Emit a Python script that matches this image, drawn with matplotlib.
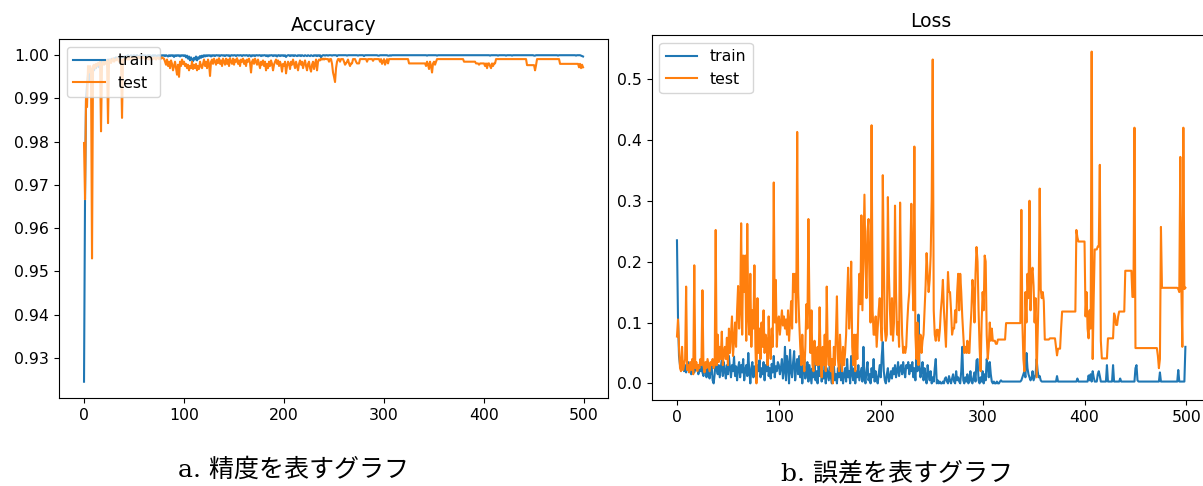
import numpy as np
import matplotlib
matplotlib.use("Agg")
import matplotlib.pyplot as plt

# per-epoch values (500 epochs)
train_acc = [
    0.9245, 0.9667, 0.9900, 0.9930, 0.9955, 0.9940, 0.9960, 0.9965, 0.9955, 0.9970, 0.9965, 0.9975, 0.9970, 0.9980, 0.9975, 0.9972, 0.9980, 0.9978, 0.9985, 0.9980,
    0.9985, 0.9982, 0.9988, 0.9985, 0.9990, 0.9986, 0.9990, 0.9988, 0.9992, 0.9990, 0.9993, 0.9990, 0.9995, 0.9992, 0.9995, 0.9993, 0.9996, 0.9994, 0.9997, 0.9995,
    0.9996, 0.9998, 0.9995, 0.9998, 1.0000, 0.9997, 0.9998, 1.0000, 0.9996, 0.9999, 1.0000, 0.9997, 0.9999, 1.0000, 0.9998, 0.9996, 1.0000, 0.9998, 0.9999, 1.0000,
    0.9998, 1.0000, 0.9997, 0.9999, 1.0000, 0.9998, 1.0000, 0.9996, 0.9999, 1.0000, 0.9998, 1.0000, 0.9999, 0.9997, 1.0000, 0.9999, 1.0000, 0.9998, 1.0000, 0.9999,
    1.0000, 0.9998, 1.0000, 0.9999, 0.9997, 1.0000, 0.9998, 1.0000, 0.9999, 1.0000, 0.9996, 1.0000, 0.9998, 1.0000, 0.9999, 1.0000, 0.9997, 1.0000, 0.9999, 1.0000,
    0.9998, 1.0000, 0.9995, 0.9999, 0.9992, 0.9997, 0.9988, 0.9995, 0.9990, 0.9986, 0.9994, 0.9990, 0.9997, 0.9988, 0.9995, 0.9992, 0.9998, 0.9994, 0.9999, 0.9996,
    1.0000, 0.9997, 1.0000, 0.9998, 1.0000, 0.9999, 1.0000, 0.9997, 1.0000, 0.9999, 1.0000, 0.9998, 1.0000, 1.0000, 0.9999, 1.0000, 0.9998, 1.0000, 1.0000, 0.9999,
    1.0000, 0.9998, 1.0000, 1.0000, 0.9999, 1.0000, 0.9997, 1.0000, 1.0000, 0.9999, 1.0000, 1.0000, 0.9998, 1.0000, 1.0000, 0.9999, 1.0000, 1.0000, 0.9998, 1.0000,
    1.0000, 0.9999, 1.0000, 1.0000, 0.9998, 1.0000, 1.0000, 0.9997, 1.0000, 0.9999, 1.0000, 0.9998, 1.0000, 1.0000, 0.9999, 1.0000, 1.0000, 0.9998, 1.0000, 0.9999,
    1.0000, 1.0000, 0.9998, 1.0000, 0.9997, 1.0000, 0.9999, 1.0000, 1.0000, 0.9998, 1.0000, 0.9999, 1.0000, 0.9997, 1.0000, 1.0000, 0.9998, 1.0000, 0.9999, 1.0000,
    0.9998, 1.0000, 0.9996, 0.9999, 1.0000, 1.0000, 0.9998, 1.0000, 0.9999, 1.0000, 0.9998, 1.0000, 0.9999, 0.9998, 1.0000, 0.9999, 1.0000, 0.9998, 1.0000, 0.9999,
    0.9998, 1.0000, 0.9999, 0.9998, 1.0000, 0.9999, 0.9998, 1.0000, 0.9999, 0.9998, 1.0000, 0.9999, 1.0000, 0.9998, 1.0000, 0.9999, 1.0000, 0.9995, 0.9999, 1.0000,
    1.0000, 0.9999, 1.0000, 1.0000, 0.9999, 1.0000, 1.0000, 1.0000, 0.9999, 1.0000, 1.0000, 1.0000, 1.0000, 0.9998, 1.0000, 1.0000, 1.0000, 1.0000, 1.0000, 1.0000,
    1.0000, 1.0000, 1.0000, 0.9999, 1.0000, 1.0000, 1.0000, 1.0000, 1.0000, 1.0000, 1.0000, 1.0000, 1.0000, 1.0000, 0.9999, 1.0000, 1.0000, 1.0000, 1.0000, 1.0000,
    0.9998, 1.0000, 1.0000, 1.0000, 1.0000, 1.0000, 1.0000, 1.0000, 1.0000, 1.0000, 1.0000, 1.0000, 1.0000, 1.0000, 0.9999, 0.9999, 1.0000, 1.0000, 1.0000, 1.0000,
    1.0000, 1.0000, 1.0000, 1.0000, 0.9999, 0.9999, 1.0000, 0.9999, 1.0000, 1.0000, 1.0000, 1.0000, 1.0000, 1.0000, 1.0000, 1.0000, 1.0000, 1.0000, 1.0000, 1.0000,
    1.0000, 1.0000, 1.0000, 1.0000, 1.0000, 1.0000, 1.0000, 1.0000, 1.0000, 1.0000, 1.0000, 1.0000, 1.0000, 1.0000, 1.0000, 1.0000, 1.0000, 1.0000, 1.0000, 1.0000,
    1.0000, 1.0000, 1.0000, 0.9999, 1.0000, 1.0000, 1.0000, 1.0000, 1.0000, 1.0000, 1.0000, 1.0000, 1.0000, 0.9999, 1.0000, 1.0000, 1.0000, 1.0000, 1.0000, 1.0000,
    1.0000, 1.0000, 1.0000, 1.0000, 1.0000, 1.0000, 1.0000, 1.0000, 1.0000, 1.0000, 1.0000, 1.0000, 1.0000, 1.0000, 1.0000, 1.0000, 1.0000, 1.0000, 1.0000, 1.0000,
    1.0000, 1.0000, 1.0000, 1.0000, 1.0000, 1.0000, 1.0000, 1.0000, 1.0000, 1.0000, 1.0000, 1.0000, 1.0000, 1.0000, 1.0000, 1.0000, 1.0000, 1.0000, 1.0000, 1.0000,
    1.0000, 1.0000, 1.0000, 1.0000, 1.0000, 1.0000, 0.9999, 1.0000, 1.0000, 1.0000, 1.0000, 1.0000, 1.0000, 1.0000, 0.9999, 1.0000, 1.0000, 1.0000, 1.0000, 1.0000,
    1.0000, 1.0000, 0.9999, 1.0000, 1.0000, 1.0000, 1.0000, 1.0000, 0.9999, 1.0000, 1.0000, 1.0000, 1.0000, 1.0000, 1.0000, 1.0000, 1.0000, 1.0000, 1.0000, 1.0000,
    1.0000, 1.0000, 1.0000, 1.0000, 1.0000, 1.0000, 1.0000, 1.0000, 1.0000, 1.0000, 0.9999, 0.9999, 1.0000, 1.0000, 1.0000, 1.0000, 1.0000, 1.0000, 1.0000, 1.0000,
    1.0000, 1.0000, 1.0000, 1.0000, 1.0000, 1.0000, 1.0000, 1.0000, 1.0000, 1.0000, 1.0000, 1.0000, 1.0000, 1.0000, 0.9999, 1.0000, 1.0000, 1.0000, 1.0000, 1.0000,
    1.0000, 1.0000, 1.0000, 1.0000, 1.0000, 1.0000, 1.0000, 1.0000, 1.0000, 1.0000, 1.0000, 1.0000, 0.9999, 1.0000, 1.0000, 1.0000, 1.0000, 0.9999, 0.9998, 0.9997,
]

test_acc = [
    0.9797, 0.9667, 0.9900, 0.9880, 0.9975, 0.9960, 0.9975, 0.9968, 0.9530, 0.9975, 0.9978, 0.9970, 0.9980, 0.9975, 0.9982, 0.9978, 0.9985, 0.9824, 0.9980, 0.9985,
    0.9978, 0.9985, 0.9980, 0.9988, 0.9843, 0.9985, 0.9990, 0.9982, 0.9988, 0.9992, 0.9985, 0.9990, 0.9988, 0.9993, 0.9990, 0.9985, 0.9992, 0.9988, 0.9855, 0.9990,
    0.9992, 0.9988, 0.9993, 0.9990, 0.9994, 0.9990, 0.9993, 0.9995, 0.9990, 0.9994, 0.9992, 0.9995, 0.9993, 0.9995, 0.9994, 0.9996, 0.9993, 0.9995, 0.9994, 0.9996,
    0.9994, 0.9990, 0.9995, 0.9992, 0.9994, 0.9990, 0.9995, 0.9993, 0.9990, 0.9994, 0.9992, 0.9995, 0.9990, 0.9993, 0.9995, 0.9991, 0.9994, 0.9992, 0.9995, 0.9993,
    0.9992, 0.9985, 0.9978, 0.9990, 0.9975, 0.9985, 0.9970, 0.9988, 0.9980, 0.9965, 0.9975, 0.9985, 0.9970, 0.9955, 0.9978, 0.9950, 0.9985, 0.9975, 0.9990, 0.9980,
    0.9985, 0.9975, 0.9980, 0.9970, 0.9978, 0.9965, 0.9975, 0.9970, 0.9985, 0.9968, 0.9978, 0.9970, 0.9980, 0.9965, 0.9975, 0.9968, 0.9985, 0.9975, 0.9970, 0.9980,
    0.9990, 0.9975, 0.9985, 0.9970, 0.9990, 0.9980, 0.9952, 0.9985, 0.9990, 0.9980, 0.9992, 0.9985, 0.9978, 0.9990, 0.9982, 0.9993, 0.9980, 0.9988, 0.9975, 0.9992,
    0.9985, 0.9978, 0.9992, 0.9980, 0.9990, 0.9975, 0.9993, 0.9985, 0.9980, 0.9992, 0.9978, 0.9990, 0.9985, 0.9993, 0.9980, 0.9988, 0.9975, 0.9990, 0.9985, 0.9992,
    0.9980, 0.9988, 0.9975, 0.9990, 0.9985, 0.9992, 0.9982, 0.9960, 0.9985, 0.9990, 0.9980, 0.9992, 0.9985, 0.9978, 0.9990, 0.9980, 0.9970, 0.9985, 0.9978, 0.9988,
    0.9975, 0.9985, 0.9965, 0.9980, 0.9970, 0.9985, 0.9975, 0.9988, 0.9980, 0.9965, 0.9978, 0.9985, 0.9990, 0.9980, 0.9988, 0.9975, 0.9985, 0.9978, 0.9962, 0.9980,
    0.9975, 0.9985, 0.9958, 0.9975, 0.9985, 0.9980, 0.9968, 0.9985, 0.9978, 0.9990, 0.9980, 0.9970, 0.9985, 0.9975, 0.9965, 0.9980, 0.9988, 0.9978, 0.9985, 0.9970,
    0.9980, 0.9988, 0.9975, 0.9965, 0.9980, 0.9985, 0.9970, 0.9962, 0.9978, 0.9985, 0.9968, 0.9980, 0.9990, 0.9965, 0.9985, 0.9990, 0.9988, 0.9992, 0.9990, 0.9992,
    0.9990, 0.9992, 0.9991, 0.9991, 0.9991, 0.9985, 0.9991, 0.9991, 0.9980, 0.9960, 0.9950, 0.9938, 0.9970, 0.9985, 0.9991, 0.9991, 0.9985, 0.9991, 0.9991, 0.9991,
    0.9985, 0.9978, 0.9981, 0.9985, 0.9990, 0.9981, 0.9975, 0.9981, 0.9981, 0.9991, 0.9991, 0.9991, 0.9985, 0.9981, 0.9981, 0.9981, 0.9991, 0.9991, 0.9991, 0.9991,
    0.9991, 0.9991, 0.9991, 0.9985, 0.9991, 0.9991, 0.9991, 0.9991, 0.9991, 0.9987, 0.9991, 0.9991, 0.9991, 0.9991, 0.9991, 0.9991, 0.9985, 0.9991, 0.9980, 0.9985,
    0.9991, 0.9978, 0.9985, 0.9991, 0.9981, 0.9991, 0.9991, 0.9991, 0.9991, 0.9991, 0.9991, 0.9991, 0.9991, 0.9991, 0.9991, 0.9991, 0.9991, 0.9991, 0.9991, 0.9991,
    0.9991, 0.9991, 0.9991, 0.9991, 0.9991, 0.9981, 0.9981, 0.9981, 0.9981, 0.9981, 0.9981, 0.9981, 0.9981, 0.9981, 0.9981, 0.9981, 0.9981, 0.9981, 0.9981, 0.9981,
    0.9981, 0.9981, 0.9975, 0.9985, 0.9978, 0.9968, 0.9985, 0.9975, 0.9960, 0.9981, 0.9985, 0.9978, 0.9985, 0.9991, 0.9991, 0.9991, 0.9991, 0.9991, 0.9991, 0.9991,
    0.9991, 0.9991, 0.9991, 0.9991, 0.9991, 0.9991, 0.9991, 0.9991, 0.9991, 0.9991, 0.9991, 0.9991, 0.9991, 0.9991, 0.9991, 0.9991, 0.9991, 0.9991, 0.9991, 0.9991,
    0.9985, 0.9985, 0.9985, 0.9985, 0.9985, 0.9985, 0.9985, 0.9985, 0.9985, 0.9985, 0.9985, 0.9985, 0.9981, 0.9981, 0.9981, 0.9978, 0.9981, 0.9981, 0.9981, 0.9981,
    0.9981, 0.9975, 0.9981, 0.9970, 0.9981, 0.9981, 0.9975, 0.9970, 0.9981, 0.9975, 0.9981, 0.9981, 0.9991, 0.9991, 0.9991, 0.9991, 0.9991, 0.9991, 0.9991, 0.9991,
    0.9991, 0.9991, 0.9991, 0.9991, 0.9991, 0.9991, 0.9991, 0.9991, 0.9991, 0.9991, 0.9991, 0.9991, 0.9991, 0.9991, 0.9991, 0.9991, 0.9991, 0.9991, 0.9991, 0.9991,
    0.9991, 0.9991, 0.9991, 0.9977, 0.9977, 0.9977, 0.9977, 0.9977, 0.9977, 0.9977, 0.9977, 0.9965, 0.9977, 0.9991, 0.9991, 0.9991, 0.9991, 0.9991, 0.9991, 0.9991,
    0.9991, 0.9991, 0.9991, 0.9991, 0.9991, 0.9991, 0.9991, 0.9991, 0.9991, 0.9991, 0.9991, 0.9991, 0.9991, 0.9991, 0.9991, 0.9991, 0.9980, 0.9980, 0.9980, 0.9980,
    0.9980, 0.9980, 0.9980, 0.9980, 0.9980, 0.9980, 0.9980, 0.9980, 0.9980, 0.9980, 0.9980, 0.9980, 0.9980, 0.9980, 0.9980, 0.9972, 0.9980, 0.9970, 0.9978, 0.9972,
]

train_loss = [
    0.235, 0.109, 0.045, 0.030, 0.038, 0.025, 0.032, 0.020, 0.030, 0.018, 0.028, 0.035, 0.020, 0.030, 0.015, 0.025, 0.032, 0.018, 0.028, 0.022,
    0.030, 0.015, 0.025, 0.020, 0.035, 0.018, 0.012, 0.028, 0.020, 0.010, 0.025, 0.015, 0.008, 0.020, 0.030, 0.005, 0.000, 0.015, 0.040, 0.022,
    0.015, 0.030, 0.010, 0.025, 0.040, 0.012, 0.035, 0.020, 0.008, 0.030, 0.015, 0.045, 0.025, 0.010, 0.030, 0.020, 0.044, 0.012, 0.028, 0.005,
    0.025, 0.035, 0.010, 0.030, 0.018, 0.040, 0.005, 0.022, 0.030, 0.012, 0.050, 0.020, 0.000, 0.025, 0.035, 0.010, 0.028, 0.015, 0.005, 0.030,
    0.020, 0.038, 0.010, 0.025, 0.015, 0.035, 0.005, 0.030, 0.020, 0.040, 0.012, 0.025, 0.008, 0.032, 0.018, 0.045, 0.010, 0.028, 0.020, 0.035,
    0.030, 0.015, 0.025, 0.040, 0.008, 0.020, 0.060, 0.005, 0.045, 0.030, 0.000, 0.055, 0.020, 0.010, 0.035, 0.053, 0.005, 0.025, 0.040, 0.015,
    0.045, 0.010, 0.030, 0.000, 0.025, 0.040, 0.008, 0.020, 0.035, 0.003, 0.030, 0.015, 0.000, 0.025, 0.010, 0.035, 0.005, 0.020, 0.000, 0.030,
    0.012, 0.040, 0.003, 0.020, 0.008, 0.030, 0.000, 0.025, 0.015, 0.005, 0.035, 0.010, 0.000, 0.020, 0.030, 0.005, 0.015, 0.000, 0.025, 0.010,
    0.035, 0.005, 0.020, 0.000, 0.015, 0.025, 0.003, 0.040, 0.010, 0.020, 0.000, 0.045, 0.015, 0.005, 0.025, 0.000, 0.020, 0.010, 0.030, 0.005,
    0.015, 0.025, 0.003, 0.060, 0.010, 0.000, 0.020, 0.035, 0.005, 0.015, 0.000, 0.025, 0.010, 0.040, 0.003, 0.020, 0.008, 0.000, 0.015, 0.030,
    0.010, 0.045, 0.068, 0.020, 0.005, 0.000, 0.015, 0.025, 0.003, 0.010, 0.020, 0.008, 0.025, 0.015, 0.030, 0.010, 0.020, 0.035, 0.012, 0.025,
    0.030, 0.015, 0.035, 0.020, 0.010, 0.030, 0.025, 0.035, 0.015, 0.030, 0.020, 0.035, 0.010, 0.025, 0.005, 0.040, 0.020, 0.113, 0.030, 0.010,
    0.020, 0.035, 0.005, 0.025, 0.010, 0.000, 0.030, 0.015, 0.005, 0.020, 0.000, 0.010, 0.003, 0.025, 0.040, 0.000, 0.005, 0.000, 0.003, 0.000,
    0.000, 0.003, 0.000, 0.008, 0.010, 0.003, 0.000, 0.012, 0.005, 0.000, 0.008, 0.015, 0.003, 0.000, 0.020, 0.005, 0.010, 0.003, 0.000, 0.020,
    0.060, 0.005, 0.000, 0.010, 0.003, 0.015, 0.000, 0.005, 0.020, 0.003, 0.000, 0.010, 0.018, 0.003, 0.038, 0.040, 0.005, 0.000, 0.010, 0.003,
    0.020, 0.000, 0.015, 0.005, 0.040, 0.030, 0.010, 0.035, 0.015, 0.003, 0.000, 0.003, 0.000, 0.000, 0.003, 0.000, 0.000, 0.003, 0.005, 0.003,
    0.003, 0.003, 0.003, 0.003, 0.003, 0.003, 0.003, 0.003, 0.003, 0.003, 0.003, 0.003, 0.003, 0.003, 0.003, 0.003, 0.003, 0.003, 0.005, 0.010,
    0.015, 0.020, 0.010, 0.050, 0.025, 0.015, 0.010, 0.005, 0.008, 0.020, 0.005, 0.010, 0.015, 0.040, 0.020, 0.010, 0.012, 0.005, 0.003, 0.003,
    0.003, 0.003, 0.003, 0.003, 0.003, 0.003, 0.003, 0.003, 0.003, 0.003, 0.003, 0.003, 0.003, 0.012, 0.003, 0.003, 0.003, 0.003, 0.003, 0.003,
    0.003, 0.003, 0.003, 0.003, 0.003, 0.003, 0.003, 0.003, 0.003, 0.003, 0.003, 0.003, 0.003, 0.008, 0.003, 0.003, 0.003, 0.003, 0.003, 0.003,
    0.003, 0.003, 0.003, 0.003, 0.013, 0.005, 0.015, 0.003, 0.020, 0.010, 0.003, 0.003, 0.003, 0.015, 0.020, 0.012, 0.003, 0.003, 0.003, 0.003,
    0.003, 0.003, 0.030, 0.003, 0.003, 0.003, 0.003, 0.003, 0.030, 0.003, 0.003, 0.003, 0.003, 0.003, 0.003, 0.008, 0.003, 0.003, 0.003, 0.003,
    0.003, 0.003, 0.003, 0.003, 0.003, 0.003, 0.003, 0.003, 0.003, 0.003, 0.025, 0.030, 0.005, 0.003, 0.003, 0.003, 0.003, 0.003, 0.003, 0.003,
    0.003, 0.003, 0.003, 0.003, 0.003, 0.003, 0.003, 0.003, 0.003, 0.003, 0.003, 0.003, 0.003, 0.003, 0.018, 0.003, 0.003, 0.003, 0.003, 0.003,
    0.003, 0.003, 0.003, 0.003, 0.003, 0.003, 0.003, 0.003, 0.003, 0.003, 0.003, 0.003, 0.022, 0.003, 0.003, 0.003, 0.003, 0.003, 0.003, 0.060,
]

test_loss = [
    0.077, 0.105, 0.060, 0.025, 0.020, 0.060, 0.022, 0.030, 0.040, 0.159, 0.022, 0.030, 0.018, 0.035, 0.022, 0.040, 0.015, 0.194, 0.025, 0.035,
    0.020, 0.030, 0.025, 0.040, 0.030, 0.153, 0.030, 0.018, 0.035, 0.025, 0.040, 0.030, 0.020, 0.035, 0.030, 0.040, 0.025, 0.030, 0.252, 0.030,
    0.080, 0.035, 0.060, 0.040, 0.085, 0.030, 0.050, 0.060, 0.040, 0.075, 0.030, 0.090, 0.050, 0.080, 0.110, 0.045, 0.070, 0.100, 0.060, 0.120,
    0.160, 0.090, 0.120, 0.263, 0.080, 0.210, 0.150, 0.210, 0.070, 0.262, 0.110, 0.080, 0.180, 0.060, 0.120, 0.090, 0.194, 0.060, 0.000, 0.140,
    0.050, 0.090, 0.040, 0.100, 0.060, 0.120, 0.050, 0.080, 0.070, 0.030, 0.110, 0.060, 0.040, 0.090, 0.060, 0.330, 0.100, 0.170, 0.060, 0.100,
    0.110, 0.080, 0.100, 0.120, 0.095, 0.110, 0.090, 0.105, 0.080, 0.120, 0.070, 0.100, 0.135, 0.090, 0.180, 0.150, 0.180, 0.100, 0.413, 0.150,
    0.100, 0.060, 0.030, 0.080, 0.040, 0.020, 0.060, 0.130, 0.090, 0.270, 0.130, 0.050, 0.120, 0.030, 0.020, 0.070, 0.040, 0.030, 0.060, 0.030,
    0.125, 0.040, 0.010, 0.060, 0.030, 0.080, 0.020, 0.159, 0.050, 0.030, 0.070, 0.020, 0.040, 0.000, 0.060, 0.030, 0.080, 0.143, 0.040, 0.020,
    0.080, 0.040, 0.020, 0.060, 0.030, 0.050, 0.080, 0.140, 0.190, 0.090, 0.120, 0.200, 0.060, 0.030, 0.080, 0.020, 0.080, 0.040, 0.120, 0.180,
    0.130, 0.276, 0.120, 0.220, 0.310, 0.200, 0.140, 0.250, 0.270, 0.160, 0.100, 0.424, 0.120, 0.080, 0.080, 0.110, 0.060, 0.090, 0.120, 0.140,
    0.100, 0.070, 0.342, 0.200, 0.090, 0.070, 0.080, 0.306, 0.180, 0.120, 0.080, 0.140, 0.070, 0.100, 0.292, 0.150, 0.080, 0.100, 0.060, 0.297,
    0.150, 0.080, 0.050, 0.060, 0.050, 0.060, 0.100, 0.130, 0.150, 0.210, 0.295, 0.180, 0.120, 0.389, 0.080, 0.040, 0.100, 0.030, 0.060, 0.080,
    0.050, 0.070, 0.080, 0.120, 0.160, 0.214, 0.180, 0.150, 0.170, 0.210, 0.300, 0.532, 0.120, 0.080, 0.070, 0.088, 0.088, 0.070, 0.088, 0.120,
    0.140, 0.170, 0.120, 0.090, 0.060, 0.120, 0.183, 0.150, 0.150, 0.120, 0.080, 0.090, 0.090, 0.120, 0.100, 0.150, 0.180, 0.120, 0.180, 0.150,
    0.110, 0.080, 0.050, 0.060, 0.050, 0.070, 0.050, 0.050, 0.090, 0.120, 0.170, 0.150, 0.100, 0.180, 0.224, 0.200, 0.120, 0.060, 0.020, 0.100,
    0.150, 0.120, 0.210, 0.200, 0.080, 0.040, 0.060, 0.100, 0.070, 0.090, 0.070, 0.070, 0.070, 0.065, 0.065, 0.072, 0.072, 0.072, 0.072, 0.072,
    0.072, 0.072, 0.072, 0.099, 0.099, 0.099, 0.099, 0.099, 0.099, 0.099, 0.099, 0.099, 0.099, 0.099, 0.099, 0.099, 0.099, 0.099, 0.285, 0.099,
    0.040, 0.020, 0.150, 0.100, 0.180, 0.140, 0.300, 0.120, 0.180, 0.190, 0.160, 0.100, 0.140, 0.010, 0.080, 0.150, 0.320, 0.155, 0.140, 0.150,
    0.135, 0.072, 0.072, 0.072, 0.072, 0.072, 0.074, 0.074, 0.074, 0.074, 0.074, 0.074, 0.060, 0.046, 0.057, 0.057, 0.057, 0.090, 0.118, 0.118,
    0.118, 0.118, 0.118, 0.118, 0.118, 0.118, 0.118, 0.118, 0.118, 0.118, 0.118, 0.118, 0.252, 0.240, 0.233, 0.233, 0.233, 0.233, 0.233, 0.233,
    0.233, 0.110, 0.150, 0.090, 0.074, 0.120, 0.090, 0.545, 0.040, 0.140, 0.220, 0.220, 0.220, 0.225, 0.225, 0.359, 0.070, 0.041, 0.041, 0.041,
    0.041, 0.041, 0.041, 0.074, 0.074, 0.074, 0.074, 0.074, 0.074, 0.115, 0.110, 0.096, 0.096, 0.110, 0.118, 0.118, 0.118, 0.118, 0.118, 0.118,
    0.185, 0.185, 0.185, 0.185, 0.185, 0.185, 0.185, 0.142, 0.142, 0.420, 0.058, 0.058, 0.058, 0.058, 0.058, 0.058, 0.058, 0.058, 0.058, 0.058,
    0.058, 0.058, 0.058, 0.058, 0.058, 0.058, 0.058, 0.058, 0.058, 0.058, 0.058, 0.058, 0.045, 0.025, 0.040, 0.257, 0.157, 0.157, 0.157, 0.157,
    0.157, 0.157, 0.157, 0.157, 0.157, 0.157, 0.157, 0.157, 0.157, 0.157, 0.157, 0.157, 0.155, 0.150, 0.372, 0.160, 0.060, 0.420, 0.155, 0.157,
]

titles = ["Accuracy", "Loss"]
captions = ["a. 精度を表すグラフ", "b. 誤差を表すグラフ"]
series_names = ["train", "test"]

epochs = np.arange(len(train_acc))

fig = plt.figure(figsize=(12.03, 4.86), dpi=100)

# two screenshots pasted side by side: place axes by hand
ax_acc = fig.add_axes([0.0491, 0.181, 0.4563, 0.739])
ax_loss = fig.add_axes([0.5416, 0.177, 0.4649, 0.751])

for ax, title, (tr, te) in zip([ax_acc, ax_loss], titles,
                               [(train_acc, test_acc), (train_loss, test_loss)]):
    ax.plot(epochs, tr, color="#1f77b4", lw=1.5, label=series_names[0])
    ax.plot(epochs, te, color="#ff7f0e", lw=1.5, label=series_names[1])
    ax.set_title(title, fontsize=13.5)
    ax.tick_params(labelsize=11.3)
    ax.legend(loc="upper left", fontsize=11.3)

ax_acc.yaxis.set_major_formatter(matplotlib.ticker.FormatStrFormatter("%.2f"))

cap_fonts = ["DejaVu Serif", "Noto Sans CJK JP"]
fig.text(293 / 1203, 1 - 470 / 486, captions[0], ha="center", va="center",
         fontsize=18, family=cap_fonts)
fig.text(897 / 1203, 1 - 473 / 486, captions[1], ha="center", va="center",
         fontsize=18, family=cap_fonts)

fig.savefig("out.png", dpi=100)
